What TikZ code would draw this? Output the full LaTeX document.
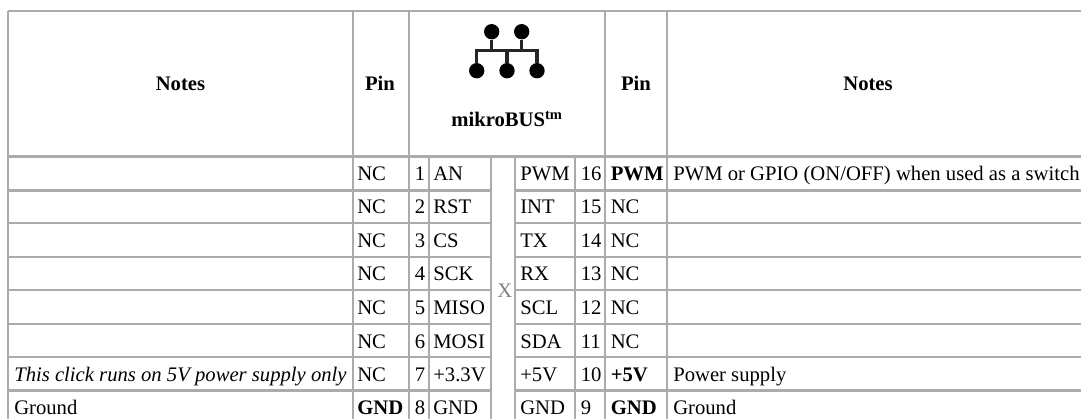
\documentclass[tikz,border=0pt]{standalone}
\usepackage{fontspec}
\setmainfont{Liberation Serif}
\tikzset{
	cell/.style={anchor=base west,inner sep=0pt,font=\fontsize{15.5}{18}\selectfont},
	head/.style={anchor=base,inner sep=0pt,font=\fontsize{15.5}{18}\selectfont\bfseries},
	grid/.style={draw=black!33,line width=1.6pt},
	dot/.style={circle,fill=black,inner sep=0pt,minimum size=11.5pt},
	bus/.style={draw=black!85,line width=2.4pt}
}

\begin{document}
\begin{tikzpicture}[x=0.75pt,y=-0.75pt]
		\useasboundingbox (0,0) rectangle (1081,419);
		
		% table rules
		\draw[grid] (8,11) -- (1081,11);
		\draw[grid] (8,156.5) -- (1081,156.5);
		\foreach \y in {190.5,223,256.7,290,324,357,390.5} {
			\draw[grid] (8,\y) -- (491,\y);
			\draw[grid] (515,\y) -- (1081,\y);
		}
		\foreach \x in {8,353,409,605,667} \draw[grid] (\x,11) -- (\x,419);
		\foreach \x in {429,491,515,575} \draw[grid] (\x,156.5) -- (\x,419);
		
		% header
		\node[head] (notesl) at (180.5,90.5) {Notes};
		\node[head] (pinl) at (380,90.5) {Pin};
		\node[head] (bustitle) at (507,126) {mikroBUS\textsuperscript{tm}};
		\node[head] (pinr) at (636,90.5) {Pin};
		\node[head] (notesr) at (868,90.5) {Notes};
		
		% bus icon
		\node[dot] (topa) at (491.7,31.7) {};
		\node[dot] (topb) at (521.7,31.7) {};
		\node[dot] (bota) at (476.7,70.7) {};
		\node[dot] (botb) at (507,70.7) {};
		\node[dot] (botc) at (537,70.7) {};
		\coordinate (junca) at (491.7,50.7);
		\coordinate (juncb) at (521.7,50.7);
		\coordinate (juncc) at (507,50.7);
		\draw[bus] (topa) -- (junca);
		\draw[bus] (topb) -- (juncb);
		\draw[bus] (botb) -- (juncc);
		\draw[bus] (bota) |- (juncc) -| (botc);
		
		% pin rows
		\foreach \row/\y/\pl/\nl/\sl/\sr/\nr/\pr in {
			1/180/NC/1/AN/PWM/16/{\textbf{PWM}},
			2/213.5/NC/2/RST/INT/15/NC,
			3/247/NC/3/CS/TX/14/NC,
			4/280.5/NC/4/SCK/RX/13/NC,
			5/314.5/NC/5/MISO/SCL/12/NC,
			6/348/NC/6/MOSI/SDA/11/NC,
			7/381.5/NC/7/+3.3V/+5V/10/{\textbf{+5V}},
			8/414.5/{\textbf{GND}}/8/GND/GND/9/{\textbf{GND}}} {
			\node[cell] (pinl\row) at (357,\y) {\pl};
			\node[cell] (numl\row) at (414.5,\y) {\nl};
			\node[cell] (sigl\row) at (433,\y) {\sl};
			\node[cell] (sigr\row) at (520,\y) {\sr};
			\node[cell] (numr\row) at (580.5,\y) {\nr};
			\node[cell] (pinr\row) at (610.5,\y) {\pr};
		}
		\node[cell,text=black!50] (notconn) at (497,297.5) {X};
		
		% notes
		\node[cell] (noter1) at (673,180) {PWM or GPIO (ON/OFF) when used as a switch};
		\node[cell] (notel7) at (14,381.5) {\itshape This click runs on 5V power supply only};
		\node[cell] (noter7) at (673,381.5) {Power supply};
		\node[cell] (notel8) at (14,414.5) {Ground};
		\node[cell] (noter8) at (673,414.5) {Ground};
		\end{tikzpicture}
\end{document}
